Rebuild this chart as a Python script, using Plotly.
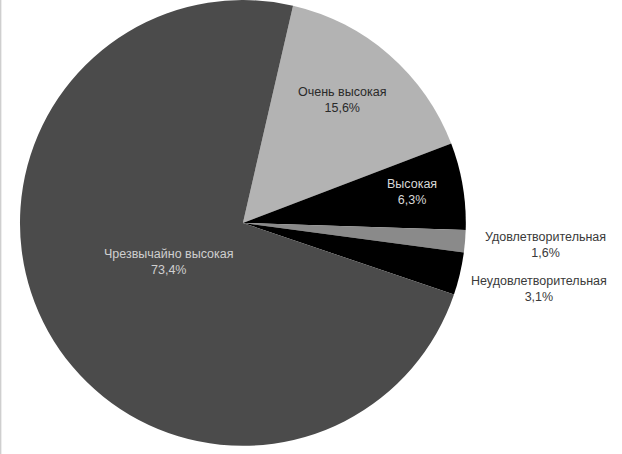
import math
import plotly.graph_objects as go

# Survey categories in clockwise order, starting just right of 12 o'clock
categories = [
    "Очень высокая",
    "Высокая",
    "Удовлетворительная",
    "Неудовлетворительная",
    "Чрезвычайно высокая",
]
shares = [15.6, 6.3, 1.6, 3.1, 73.4]

# Styling
slice_colors = ["#b3b3b3", "#000000", "#8a8a8a", "#000000", "#4b4b4b"]
text_colors = ["#2a2a2a", "#d8d8d8", "#3a3a3a", "#3a3a3a", "#cfcfcf"]
# radial position of each label as a fraction of the radius (>1 means outside)
label_radius = [0.71, 0.77, 1.36, 1.36, 0.375]
label_angle_shift = [-2.0, -0.9, -0.5, -0.6, 1.3]

W, H = 622, 454
ROTATION = 13
dom_x = [0.032, 0.749]
dom_y = [0.018, 1.0]

fig = go.Figure(
    go.Pie(
        labels=categories,
        values=shares,
        sort=False,
        direction="clockwise",
        rotation=ROTATION,
        marker=dict(colors=slice_colors, line=dict(width=0)),
        textinfo="none",
        hoverinfo="label+percent",
        showlegend=False,
        domain=dict(x=dom_x, y=dom_y),
    )
)

# pie geometry in pixels, used to place the labels
cx = (dom_x[0] + dom_x[1]) / 2 * W
cy = (dom_y[0] + dom_y[1]) / 2 * H
radius = min((dom_x[1] - dom_x[0]) * W, (dom_y[1] - dom_y[0]) * H) / 2

total = sum(shares)
start = ROTATION
for name, val, col, rf, shift in zip(categories, shares, text_colors, label_radius, label_angle_shift):
    span = val / total * 360
    mid = math.radians(start + span / 2 + shift)
    start += span
    x = cx + rf * radius * math.sin(mid)
    y = cy + rf * radius * math.cos(mid)
    fig.add_annotation(
        x=x / W,
        y=y / H,
        xref="paper",
        yref="paper",
        text=f"{name}<br>{val:.1f}%".replace(".", ","),
        showarrow=False,
        align="center",
        xanchor="center",
        yanchor="middle",
        font=dict(family="Liberation Sans, Arial, sans-serif", size=12.5, color=col),
    )

# thin frame line along the left edge
fig.add_shape(
    type="line", xref="paper", yref="paper",
    x0=0.001, x1=0.001, y0=0, y1=1,
    line=dict(color="#cfcfcf", width=1.5),
)

fig.update_layout(
    width=W,
    height=H,
    margin=dict(l=0, r=0, t=0, b=0),
    paper_bgcolor="white",
    plot_bgcolor="white",
)

fig.write_html("out.html")
